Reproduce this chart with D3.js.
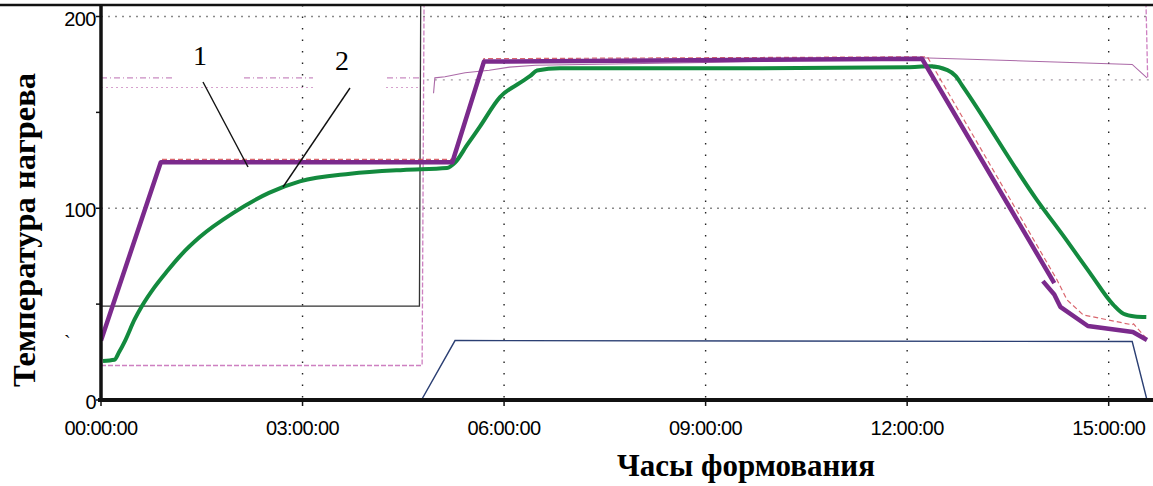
<!DOCTYPE html>
<html>
<head>
<meta charset="utf-8">
<script src="https://cdn.jsdelivr.net/npm/d3@7"></script>
<style>
    body { margin: 0; background: #fff; }
    svg { display: block; }
</style>
</head>
<body>
<div id="chart"></div>
<script>
// Time axis (hours) and temperature axis
const tickHours = [0, 3, 6, 9, 12, 15];
const gridTemps = [100, 200];
const tickTemps = [0, 50, 100, 150, 200];
const labelTemps = [0, 100, 200];

// Curve 1 - heating setpoint (thick purple), [hours, temperature]
const curve1 = [[0, 31], [0.89, 124], [5.23, 124], [5.70, 176.5], [12.22, 178], [14.19, 61]];
const curve1Tail = [[14.02, 62], [14.19, 55], [14.28, 48.6], [14.69, 38.6], [15.36, 35.5], [15.57, 31.3]];

// Curve 2 - measured temperature (thick green)
const curve2 = [[0.03, 20.4], [0.2, 21], [0.27, 25], [0.36, 31], [0.5, 42], [0.61, 49], [0.8, 59],
    [0.98, 67], [1.2, 76], [1.47, 85], [1.97, 97.6], [2.5, 108], [2.96, 114], [3.71, 118], [4.5, 120],
    [5.15, 121], [5.27, 123.8], [5.45, 133], [5.64, 142.6], [5.94, 158], [6.24, 165.5], [6.39, 169],
    [6.49, 171.8], [6.83, 173], [9, 173], [12.0, 173.5], [12.34, 174], [12.6, 172], [12.72, 169],
    [12.82, 164], [13.93, 104.4], [14.38, 83], [14.72, 66.3], [15.07, 49.6], [15.22, 45],
    [15.39, 43.6], [15.56, 43.3]];

// Faint traces of the recorder underneath
const redSetpoint = [[0, 31], [0.89, 125.5], [5.23, 125.5], [5.70, 178], [12.3, 179], [14.23, 62.7],
    [14.38, 52.2], [14.62, 44.4], [15.35, 39.2], [15.37, 39.7], [15.57, 31.8]];
const blackStep = [[0, 49], [4.74, 49], [4.76, 215], [15.6, 215]];
const pinkStep = [[0, 18], [4.78, 18], [4.81, 215], [15.55, 215], [15.58, 168]];
const pinkUpper = [[0, 168], [4.75, 168]];
const pinkLower = [[0, 163], [4.75, 163]];
const grayUpper = [[4.85, 167], [15.6, 167]];
const partTrace = [[4.95, 160], [4.97, 168], [5.12, 168.6], [5.42, 170.7], [5.78, 172], [6.08, 173.6],
    [6.47, 174.6], [9, 176], [12.2, 178.5], [15.35, 175], [15.57, 168]];
const blueTrace = [[4.77, 0], [5.27, 31], [15.35, 30.5], [15.57, 0]];

const W = 1153, H = 486;
const plot = { left: 101, right: 1149, top: 5, bottom: 400 };

const x = d3.scaleLinear().domain([0, 15.6]).range([plot.left, plot.right]);
const y = d3.scaleLinear().domain([0, 206]).range([plot.bottom, plot.top]);

const svg = d3.select("#chart").append("svg")
    .attr("width", W)
    .attr("height", H);

svg.append("defs").append("clipPath").attr("id", "clip")
    .append("rect")
    .attr("x", plot.left).attr("y", plot.top)
    .attr("width", plot.right - plot.left).attr("height", plot.bottom - plot.top);

// Dotted grid
svg.append("g").selectAll("line")
    .data(gridTemps)
    .join("line")
    .attr("x1", plot.left).attr("x2", plot.right)
    .attr("y1", d => y(d)).attr("y2", d => y(d))
    .attr("stroke", "#8a8a8a")
    .attr("stroke-width", 1.3)
    .attr("stroke-dasharray", "2,5");

svg.append("g").selectAll("line")
    .data(tickHours.slice(1))
    .join("line")
    .attr("x1", d => x(d)).attr("x2", d => x(d))
    .attr("y1", plot.top).attr("y2", plot.bottom)
    .attr("stroke", "#222")
    .attr("stroke-width", 1.4)
    .attr("stroke-dasharray", "1.5,10");

const line = d3.line().x(d => x(d[0])).y(d => y(d[1]));
const smooth = d3.line().x(d => x(d[0])).y(d => y(d[1])).curve(d3.curveMonotoneX);

const traces = svg.append("g").attr("clip-path", "url(#clip)");

// Thin recorder lines
function trace(data, color, width, dash, opacity) {
    traces.append("path")
        .datum(data)
        .attr("fill", "none")
        .attr("stroke", color)
        .attr("stroke-width", width)
        .attr("stroke-dasharray", dash)
        .attr("stroke-opacity", opacity || 1)
        .attr("d", line);
}

trace(pinkUpper, "#b25aa6", 1.2, "6,3,1,3", 0.7);
trace(pinkLower, "#c47bb8", 1.1, "2,3", 0.7);
trace(grayUpper, "#9a8f99", 1.2, "2,6", 0.9);
trace(blackStep, "#333", 1.3, null);
trace(pinkStep, "#c56ab6", 1.3, "5,2", 0.85);
trace(partTrace, "#9c4f98", 1.1, null, 0.85);
trace(blueTrace, "#2b3f73", 1.4, null);
trace(redSetpoint, "#d0404a", 1.2, "5,3", 0.8);

// Label boxes over the grid
svg.append("rect").attr("x", 173).attr("y", 28).attr("width", 70).attr("height", 57).attr("fill", "#fff");
svg.append("rect").attr("x", 313).attr("y", 34).attr("width", 72).attr("height", 56).attr("fill", "#fff");

// Main curves
traces.append("path")
    .datum(curve2)
    .attr("fill", "none")
    .attr("stroke", "#138a3e")
    .attr("stroke-width", 4)
    .attr("stroke-linejoin", "round")
    .attr("d", smooth);

[curve1, curve1Tail].forEach(data => {
    traces.append("path")
        .datum(data)
        .attr("fill", "none")
        .attr("stroke", "#7b2a8c")
        .attr("stroke-width", 4.5)
        .attr("stroke-linejoin", "round")
        .attr("d", line);
});

// Axes
svg.append("line")
    .attr("x1", 0).attr("x2", W)
    .attr("y1", 5).attr("y2", 5)
    .attr("stroke", "#111").attr("stroke-width", 2.5);

svg.append("line")
    .attr("x1", plot.left).attr("x2", plot.left)
    .attr("y1", plot.top).attr("y2", plot.bottom)
    .attr("stroke", "#111").attr("stroke-width", 3.5);

svg.append("line")
    .attr("x1", plot.left - 3).attr("x2", W)
    .attr("y1", plot.bottom).attr("y2", plot.bottom)
    .attr("stroke", "#111").attr("stroke-width", 4);

svg.append("g").selectAll("line")
    .data(tickTemps)
    .join("line")
    .attr("x1", plot.left - 5).attr("x2", plot.left)
    .attr("y1", d => y(d)).attr("y2", d => y(d))
    .attr("stroke", "#111").attr("stroke-width", 1.5);

svg.append("g").selectAll("line")
    .data(tickHours)
    .join("line")
    .attr("x1", d => x(d)).attr("x2", d => x(d))
    .attr("y1", plot.bottom).attr("y2", plot.bottom + 6)
    .attr("stroke", "#111").attr("stroke-width", 1.5);

svg.append("g").selectAll("text")
    .data(labelTemps)
    .join("text")
    .attr("x", 96)
    .attr("y", d => y(d) + 9)
    .attr("text-anchor", "end")
    .style("font-family", "'Liberation Sans', Arial, sans-serif")
    .style("font-size", "20px")
    .style("letter-spacing", "-0.5px")
    .text(d => d);

const hourLabel = h => String(h).padStart(2, "0") + ":00:00";

svg.append("g").selectAll("text")
    .data(tickHours)
    .join("text")
    .attr("x", d => x(d))
    .attr("y", 435)
    .attr("text-anchor", "middle")
    .style("font-family", "'Liberation Sans', Arial, sans-serif")
    .style("font-size", "20px")
    .style("letter-spacing", "-0.6px")
    .text(hourLabel);

// Titles
svg.append("text")
    .attr("transform", "translate(35,230) rotate(-90)")
    .attr("text-anchor", "middle")
    .style("font-family", "'Liberation Serif', 'Times New Roman', serif")
    .style("font-weight", "bold")
    .style("font-size", "32.5px")
    .text("Температура нагрева");

svg.append("text")
    .attr("x", 746)
    .attr("y", 476)
    .attr("text-anchor", "middle")
    .style("font-family", "'Liberation Serif', 'Times New Roman', serif")
    .style("font-weight", "bold")
    .style("font-size", "31px")
    .text("Часы формования");

// Curve callouts
const callouts = [
    { label: "1", tx: 200, ty: 65, from: [203, 82], to: [248, 167] },
    { label: "2", tx: 342, ty: 70, from: [350, 88], to: [283, 187] }
];

callouts.forEach(c => {
    svg.append("line")
        .attr("x1", c.from[0]).attr("y1", c.from[1])
        .attr("x2", c.to[0]).attr("y2", c.to[1])
        .attr("stroke", "#111").attr("stroke-width", 1.4);
    svg.append("text")
        .attr("x", c.tx).attr("y", c.ty)
        .attr("text-anchor", "middle")
        .style("font-family", "'Liberation Serif', 'Times New Roman', serif")
        .style("font-size", "28px")
        .text(c.label);
});

// stray mark left of the axis
svg.append("text")
    .attr("x", 64).attr("y", 350)
    .style("font-family", "'Liberation Serif', serif")
    .style("font-size", "20px")
    .text("`");
</script>
</body>
</html>
